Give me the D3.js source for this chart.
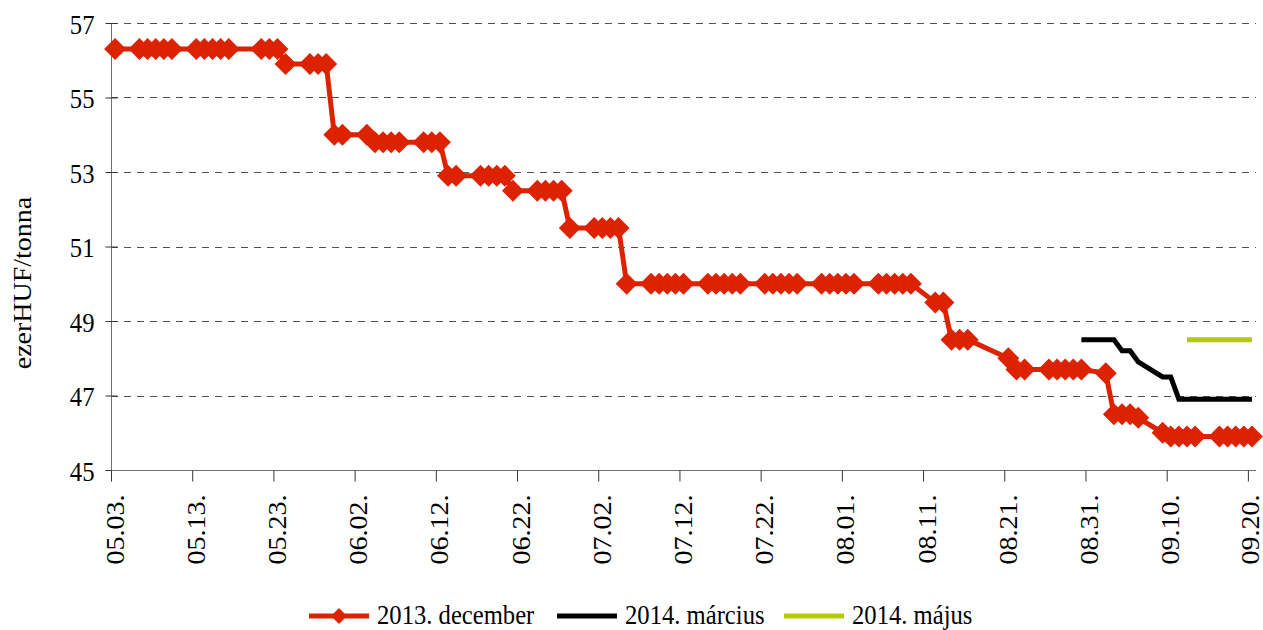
<!DOCTYPE html>
<html>
<head>
<meta charset="utf-8">
<script src="https://cdn.jsdelivr.net/npm/d3@7"></script>
<style>
  body { margin: 0; background: #fff; }
  svg text { font-family: "Liberation Serif", "Times New Roman", serif; fill: #000; }
</style>
</head>
<body>
<svg id="chart" width="1263" height="630"></svg>
<script>
// 2013. december
const decDates = [
  '05.03.', '05.06.', '05.07.', '05.08.', '05.09.', '05.10.', '05.13.', '05.14.', '05.15.', '05.16.', '05.17.',
  '05.21.', '05.22.', '05.23.', '05.24.', '05.27.', '05.28.', '05.29.', '05.30.', '05.31.',
  '06.03.', '06.04.', '06.05.', '06.06.', '06.07.', '06.10.', '06.11.', '06.12.', '06.13.', '06.14.',
  '06.17.', '06.18.', '06.19.', '06.20.', '06.21.', '06.24.', '06.25.', '06.26.', '06.27.', '06.28.',
  '07.01.', '07.02.', '07.03.', '07.04.', '07.05.', '07.08.', '07.09.', '07.10.', '07.11.', '07.12.',
  '07.15.', '07.16.', '07.17.', '07.18.', '07.19.', '07.22.', '07.23.', '07.24.', '07.25.', '07.26.',
  '07.29.', '07.30.', '07.31.', '08.01.', '08.02.', '08.05.', '08.06.', '08.07.', '08.08.', '08.09.',
  '08.12.', '08.13.', '08.14.', '08.15.', '08.16.', '08.21.', '08.22.', '08.23.',
  '08.26.', '08.27.', '08.28.', '08.29.', '08.30.', '09.02.', '09.03.', '09.04.', '09.05.', '09.06.',
  '09.09.', '09.10.', '09.11.', '09.12.', '09.13.', '09.16.', '09.17.', '09.18.', '09.19.', '09.20.'
];
const decValues = [
  56.3, 56.3, 56.3, 56.3, 56.3, 56.3, 56.3, 56.3, 56.3, 56.3, 56.3,
  56.3, 56.3, 56.3, 55.9, 55.9, 55.9, 55.9, 54.0, 54.0,
  54.0, 53.8, 53.8, 53.8, 53.8, 53.8, 53.8, 53.8, 52.9, 52.9,
  52.9, 52.9, 52.9, 52.9, 52.5, 52.5, 52.5, 52.5, 52.5, 51.5,
  51.5, 51.5, 51.5, 51.5, 50.0, 50.0, 50.0, 50.0, 50.0, 50.0,
  50.0, 50.0, 50.0, 50.0, 50.0, 50.0, 50.0, 50.0, 50.0, 50.0,
  50.0, 50.0, 50.0, 50.0, 50.0, 50.0, 50.0, 50.0, 50.0, 50.0,
  49.5, 49.5, 48.5, 48.5, 48.5, 48.0, 47.7, 47.7,
  47.7, 47.7, 47.7, 47.7, 47.7, 47.6, 46.5, 46.5, 46.5, 46.4,
  46.0, 45.9, 45.9, 45.9, 45.9, 45.9, 45.9, 45.9, 45.9, 45.9
];

// 2014. március
const marDates = ['08.30.', '09.02.', '09.03.', '09.04.', '09.05.', '09.06.', '09.09.', '09.10.',
  '09.11.', '09.12.', '09.13.', '09.16.', '09.17.', '09.18.', '09.19.', '09.20.'];
const marValues = [48.5, 48.5, 48.5, 48.2, 48.2, 47.9, 47.5, 47.5,
  46.9, 46.9, 46.9, 46.9, 46.9, 46.9, 46.9, 46.9];

// 2014. május
const majDates = ['09.12.', '09.13.', '09.16.', '09.17.', '09.18.', '09.19.', '09.20.'];
const majValues = [48.5, 48.5, 48.5, 48.5, 48.5, 48.5, 48.5];

const xTickLabels = ['05.03.', '05.13.', '05.23.', '06.02.', '06.12.', '06.22.', '07.02.', '07.12.',
  '07.22.', '08.01.', '08.11.', '08.21.', '08.31.', '09.10.', '09.20.'];
const yTicks = [45, 47, 49, 51, 53, 55, 57];

const seriesNames = ['2013. december', '2014. március', '2014. május'];
const seriesColors = ['#dd2200', '#000000', '#b3cc00'];

const FONT = 28;
const SQUEEZE = 0.88;

const parseDay = s => new Date(2013, +s.slice(0, 2) - 1, +s.slice(3, 5));
const toPoints = (dates, values) => dates.map((d, i) => ({ date: parseDay(d), value: values[i] }));

const svg = d3.select('#chart');

const x = d3.scaleTime()
  .domain([new Date(2013, 4, 3), new Date(2013, 8, 21)])
  .range([111, 1256]);
const y = d3.scaleLinear()
  .domain([45, 57])
  .range([470, 23]);

// points sit in the middle of their day
const px = d => x(d3.timeHour.offset(d.date, 12));

// GRID
svg.append('g')
  .selectAll('line')
  .data(yTicks)
  .join('line')
  .attr('x1', x.range()[0]).attr('x2', x.range()[1])
  .attr('y1', d => Math.round(y(d)) + 0.5).attr('y2', d => Math.round(y(d)) + 0.5)
  .attr('stroke', '#505050')
  .attr('stroke-width', 1)
  .attr('stroke-dasharray', '7,6');

// Y AXIS
const yAxis = svg.append('g')
  .attr('transform', 'translate(111.5,0)')
  .call(d3.axisLeft(y).tickValues(yTicks).tickSize(6).tickPadding(0).tickFormat(d3.format('d')));
yAxis.select('.domain').attr('stroke', '#707070').attr('d', `M0,${y(57)}V${y(45)}`);
yAxis.selectAll('.tick line').attr('x1', -6).attr('x2', 6).attr('stroke', '#333');
yAxis.selectAll('.tick text')
  .attr('x', null).attr('dy', null)
  .attr('font-size', FONT)
  .attr('text-anchor', 'end')
  .attr('transform', `translate(-17,10) scale(${SQUEEZE},1)`);

// X AXIS
const xAxis = svg.append('g')
  .attr('transform', 'translate(0,470.5)')
  .call(d3.axisBottom(x)
    .tickValues(xTickLabels.map(parseDay))
    .tickSize(11)
    .tickFormat((d, i) => xTickLabels[i]));
xAxis.select('.domain').attr('stroke', '#707070').attr('d', `M${x.range()[0]},0H${x.range()[1]}`);
xAxis.selectAll('.tick line').attr('stroke', '#333');
xAxis.selectAll('.tick text')
  .attr('x', null).attr('y', null).attr('dy', null)
  .attr('font-size', FONT)
  .attr('text-anchor', 'end')
  .attr('transform', (d, i, nodes) => `translate(${i === nodes.length - 1 ? 2 : 4},24) scale(${SQUEEZE},1) rotate(-90)`)
  .attr('dy', '0.33em');

// Y TITLE
svg.append('text')
  .attr('font-size', FONT)
  .attr('text-anchor', 'middle')
  .attr('transform', `translate(31,283) scale(${SQUEEZE},1) rotate(-90)`)
  .text('ezerHUF/tonna');

// LINES
const line = d3.line().x(px).y(d => y(d.value));
const diamond = r => `M0,${-r}L${r},0L0,${r}L${-r},0Z`;

const dec = toPoints(decDates, decValues);
const mar = toPoints(marDates, marValues);
const maj = toPoints(majDates, majValues);

svg.append('path').datum(mar)
  .attr('d', line).attr('fill', 'none')
  .attr('stroke', seriesColors[1]).attr('stroke-width', 5).attr('stroke-linejoin', 'miter');
svg.append('path').datum(maj)
  .attr('d', line).attr('fill', 'none')
  .attr('stroke', seriesColors[2]).attr('stroke-width', 5);
svg.append('path').datum(dec)
  .attr('d', line).attr('fill', 'none')
  .attr('stroke', seriesColors[0]).attr('stroke-width', 5).attr('stroke-linejoin', 'round');
svg.append('g')
  .selectAll('path')
  .data(dec)
  .join('path')
  .attr('transform', d => `translate(${px(d)},${y(d.value)})`)
  .attr('d', diamond(11))
  .attr('fill', seriesColors[0]);

// LEGEND
const legendX = [309, 557, 784];
const legend = svg.append('g')
  .selectAll('g')
  .data(seriesNames)
  .join('g')
  .attr('transform', (d, i) => `translate(${legendX[i]},616)`);
legend.append('line')
  .attr('x1', 0).attr('x2', 60)
  .attr('stroke', (d, i) => seriesColors[i])
  .attr('stroke-width', 5);
legend.filter((d, i) => i === 0).append('path')
  .attr('transform', 'translate(30,0)')
  .attr('d', diamond(8))
  .attr('fill', seriesColors[0]);
legend.append('text')
  .attr('font-size', FONT)
  .attr('transform', `translate(68,8) scale(${SQUEEZE},1)`)
  .text(d => d);
</script>
</body>
</html>
